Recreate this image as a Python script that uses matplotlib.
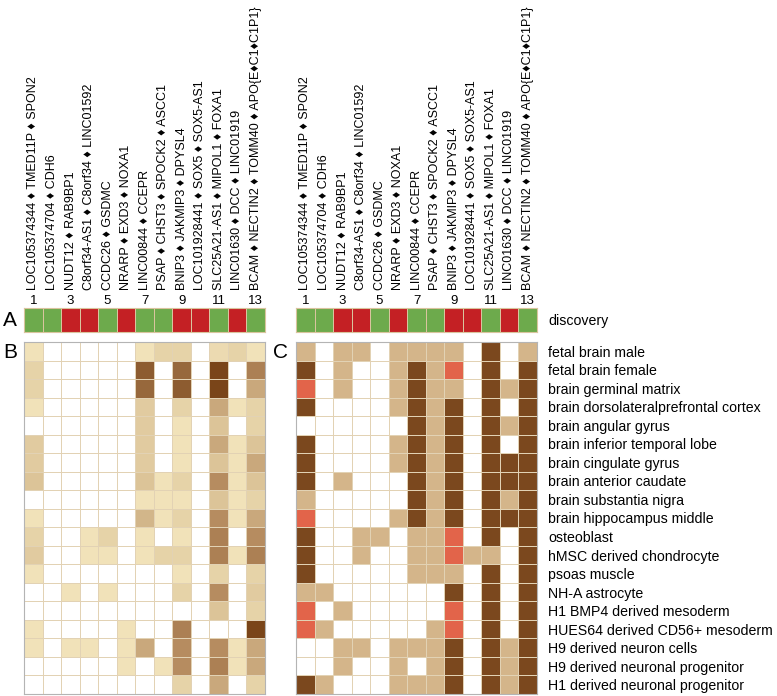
import matplotlib
matplotlib.use("Agg")
import matplotlib.pyplot as plt
import numpy as np
from matplotlib.colors import ListedColormap, LinearSegmentedColormap

plt.rcParams['font.family'] = ['Liberation Sans', 'DejaVu Sans']

genes = [
    'LOC105374344 \u2666 TMED11P \u2666 SPON2',
    'LOC105374704 \u2666 CDH6',
    'NUDT12 \u2666 RAB9BP1',
    'C8orf34-AS1 \u2666 C8orf34 \u2666 LINC01592',
    'CCDC26 \u2666 GSDMC',
    'NRARP \u2666 EXD3 \u2666 NOXA1',
    'LINC00844 \u2666 CCEPR',
    'PSAP \u2666 CHST3 \u2666 SPOCK2 \u2666 ASCC1',
    'BNIP3 \u2666 JAKMIP3 \u2666 DPYSL4',
    'LOC101928441 \u2666 SOX5 \u2666 SOX5-AS1',
    'SLC25A21-AS1 \u2666 MIPOL1 \u2666 FOXA1',
    'LINC01630 \u2666 DCC \u2666 LINC01919',
    'BCAM \u2666 NECTIN2 \u2666 TOMM40 \u2666 APO{E\u2666C1\u2666C1P1}',
]

tissues = [
    'fetal brain male', 'fetal brain female', 'brain germinal matrix',
    'brain dorsolateralprefrontal cortex', 'brain angular gyrus',
    'brain inferior temporal lobe', 'brain cingulate gyrus',
    'brain anterior caudate', 'brain substantia nigra',
    'brain hippocampus middle', 'osteoblast', 'hMSC derived chondrocyte',
    'psoas muscle', 'NH-A astrocyte', 'H1 BMP4 derived mesoderm',
    'HUES64 derived CD56+ mesoderm', 'H9 derived neuron cells',
    'H9 derived neuronal progenitor', 'H1 derived neuronal progenitor',
]

# 1 = green, 0 = red
discovery = [1, 1, 0, 0, 1, 0, 1, 1, 0, 0, 1, 0, 1]

# panel B: graded enrichment (0 = none, 8 = strongest)
b_vals = [
    [1, 0, 0, 0, 0, 0, 1, 2, 2, 0, 1.5, 2, 1],
    [2, 0, 0, 0, 0, 0, 7, 0, 6.5, 0, 8, 0, 5.5],
    [2, 0, 0, 0, 0, 0, 6.5, 0, 7, 0, 8, 0, 4],
    [1, 0, 0, 0, 0, 0, 2.5, 0, 2, 0, 4, 1, 2],
    [0, 0, 0, 0, 0, 0, 2.5, 0, 1, 0, 3, 0, 2],
    [2.5, 0, 0, 0, 0, 0, 2.5, 0, 1, 0, 4, 1, 3],
    [2.5, 0, 0, 0, 0, 0, 2.5, 0, 1, 0, 3, 1, 4],
    [3, 0, 0, 0, 0, 0, 3, 1, 2, 0, 5, 1, 3],
    [0, 0, 0, 0, 0, 0, 1, 1, 1, 0, 3, 1, 2],
    [1, 0, 0, 0, 0, 0, 3.5, 1, 2, 0, 5, 1, 4],
    [2, 0, 0, 1, 2, 0, 1, 0, 1, 0, 5.5, 0, 5],
    [2.5, 0, 0, 1, 1, 0, 1, 2, 2, 0, 5.5, 1, 5.5],
    [1, 0, 0, 0, 0, 0, 0, 0, 1, 0, 2, 0, 2],
    [0, 0, 1, 0, 1, 0, 0, 0, 2, 0, 5, 0, 2.5],
    [0, 0, 0, 0, 0, 0, 0, 0, 0, 0, 3, 0, 2],
    [1, 0, 0, 0, 0, 1, 0, 0, 5.5, 0, 0, 0, 8],
    [1, 0, 1, 1, 0, 1, 4, 0, 5, 0, 5, 1, 4],
    [0, 0, 0, 0, 0, 1, 0, 1, 5, 0, 5.5, 1, 4],
    [0, 0, 0, 0, 0, 0, 0, 0, 2, 0, 4, 0, 2],
]

# panel C: 0 = none, 1 = tan, 2 = dark brown, 3 = red
c_vals = [
    [1, 0, 1, 1, 0, 1, 1, 1, 1, 0, 2, 0, 1],
    [2, 0, 1, 0, 0, 1, 2, 1, 3, 0, 2, 0, 2],
    [3, 0, 1, 0, 0, 1, 2, 1, 1, 0, 2, 1, 2],
    [2, 0, 0, 0, 0, 1, 2, 1, 2, 0, 2, 0, 2],
    [0, 0, 0, 0, 0, 0, 2, 1, 2, 0, 2, 1, 2],
    [2, 0, 0, 0, 0, 1, 2, 1, 2, 0, 2, 0, 2],
    [2, 0, 0, 0, 0, 1, 2, 1, 2, 0, 2, 2, 2],
    [2, 0, 1, 0, 0, 0, 2, 1, 2, 0, 2, 2, 2],
    [1, 0, 0, 0, 0, 0, 2, 1, 2, 0, 2, 1, 2],
    [3, 0, 0, 0, 0, 1, 2, 1, 2, 0, 2, 2, 2],
    [2, 0, 0, 1, 1, 0, 1, 1, 3, 0, 2, 0, 2],
    [2, 0, 0, 1, 0, 0, 1, 1, 3, 1, 1, 0, 2],
    [2, 0, 0, 0, 0, 0, 1, 1, 1, 0, 2, 0, 2],
    [1, 1, 0, 0, 0, 0, 0, 0, 2, 0, 2, 0, 2],
    [3, 0, 1, 0, 0, 0, 0, 0, 3, 0, 2, 0, 2],
    [3, 1, 0, 0, 0, 0, 0, 1, 3, 0, 2, 0, 2],
    [0, 0, 1, 1, 0, 1, 1, 1, 2, 0, 2, 1, 2],
    [0, 0, 1, 0, 0, 1, 0, 1, 2, 0, 2, 1, 2],
    [2, 1, 0, 0, 0, 1, 1, 1, 2, 0, 2, 1, 2],
]

W, H = 777, 696
fig = plt.figure(figsize=(W / 100, H / 100), dpi=100)

grid_col = '#E2D2B4'
disc_cmap = ListedColormap(['#C42024', '#6DAA4C'])
b_cmap = LinearSegmentedColormap.from_list(
    'b', [(0, 'white'), (0.125, '#F1E2B9'), (0.375, '#DCC498'),
          (0.625, '#B68C60'), (1.0, '#7A4519')])
c_cmap = ListedColormap(['white', '#D4B58A', '#7B481E', '#E2644A'])

n_rows, n_cols = len(tissues), len(genes)
cols = np.arange(n_cols)
x_edges = np.arange(n_cols + 1) - 0.5
y_edges = np.arange(n_rows + 1) - 0.5


def px_axes(x0, y0, x1, y1):
    return fig.add_axes([x0 / W, 1 - y1 / H, (x1 - x0) / W, (y1 - y0) / H])


def style(ax, edge='#B4B4B4'):
    ax.set_xlim(-0.5, n_cols - 0.5)
    ax.tick_params(length=0)
    for s in ax.spines.values():
        s.set_edgecolor(edge)
        s.set_linewidth(0.8)


lefts = [24, 296]
for k, x0 in enumerate(lefts):
    # discovery strip
    ax = px_axes(x0, 308, x0 + 241, 332)
    ax.pcolormesh(x_edges, [-0.5, 0.5], np.array([discovery]), cmap=disc_cmap,
                  vmin=0, vmax=1, edgecolors='#D9C49E', linewidth=0.5,
                  shading='flat')
    style(ax, '#D9C49E')
    ax.set_ylim(-0.5, 0.5)
    ax.xaxis.tick_top()
    ax.set_xticks(cols[::2])
    ax.set_xticklabels([str(i + 1) for i in cols[::2]], fontsize=9.5)
    ax.tick_params(axis='x', pad=1)
    if k == 1:
        ax.yaxis.tick_right()
        ax.set_yticks([0])
        ax.set_yticklabels(['discovery'], fontsize=10.2)
        ax.tick_params(axis='y', pad=8)
    else:
        ax.set_yticks([])
    for i, g in enumerate(genes):
        ax.annotate(g, xy=(i, 1), xycoords=('data', 'axes fraction'),
                    xytext=(0, 13), textcoords='offset points',
                    rotation=90, ha='center', va='bottom', fontsize=9)

    # heatmap
    ax = px_axes(x0, 342, x0 + 241, 694)
    if k == 0:
        ax.pcolormesh(x_edges, y_edges, np.array(b_vals), cmap=b_cmap,
                      vmin=0, vmax=8, edgecolors=grid_col, linewidth=0.6,
                      shading='flat')
    else:
        ax.pcolormesh(x_edges, y_edges, np.array(c_vals), cmap=c_cmap,
                      vmin=-0.5, vmax=3.5, edgecolors=grid_col, linewidth=0.6,
                      shading='flat')
    style(ax)
    ax.set_ylim(n_rows - 0.5, -0.5)
    ax.set_xticks([])
    if k == 1:
        ax.yaxis.tick_right()
        ax.set_yticks(np.arange(n_rows))
        ax.set_yticklabels(tissues, fontsize=10.2)
        ax.tick_params(axis='y', pad=8)
    else:
        ax.set_yticks([])

fig.text(3 / W, 1 - 320 / H, 'A', fontsize=15, va='center', ha='left')
fig.text(3 / W, 1 - 352 / H, 'B', fontsize=15, va='center', ha='left')
fig.text(273 / W, 1 - 352 / H, 'C', fontsize=15, va='center', ha='left')

fig.savefig('out.png', dpi=100)
